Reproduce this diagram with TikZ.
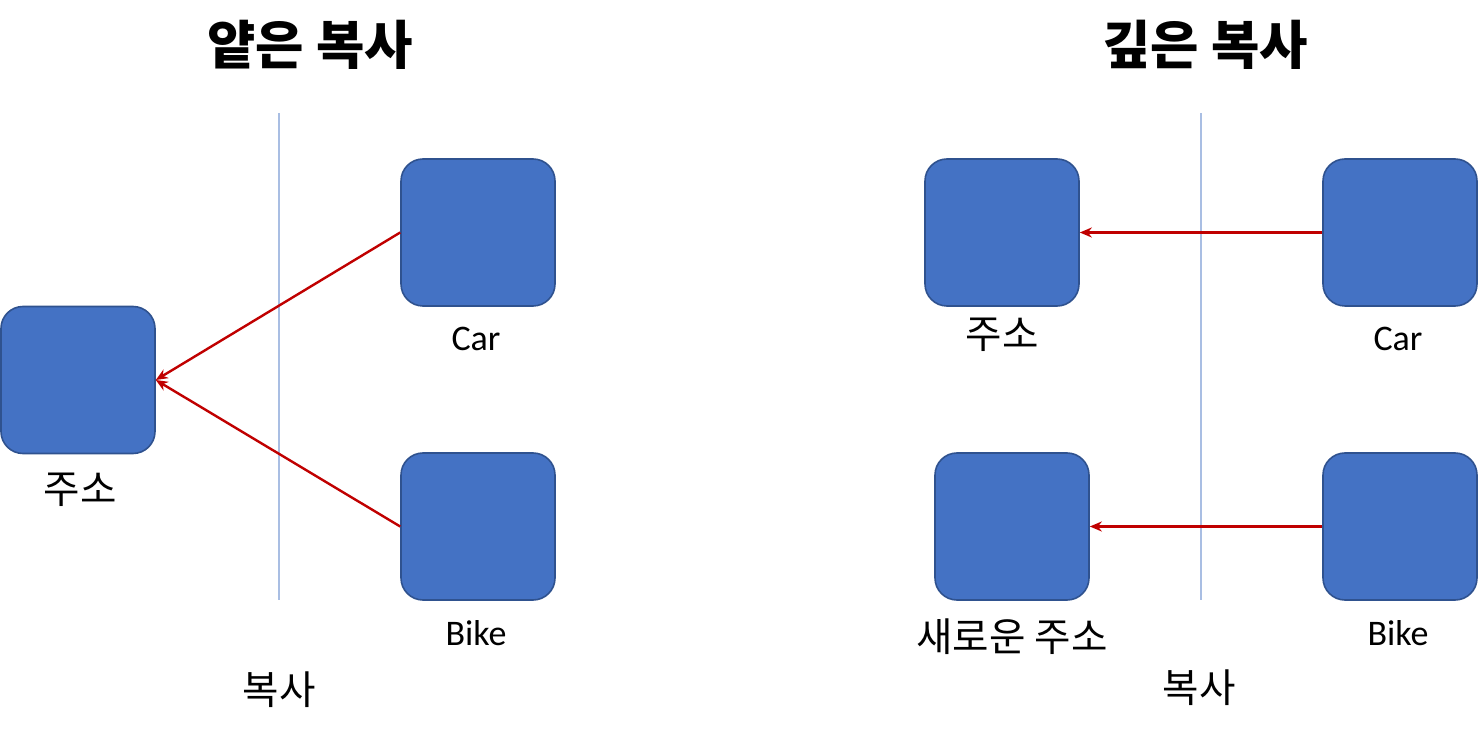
\documentclass[tikz,border=0pt]{standalone}
\usepackage{fontspec}
\setmainfont{Carlito}
\newfontfamily\kr{Noto Sans CJK KR}
\definecolor{boxfill}{HTML}{4472C4}
\definecolor{boxdraw}{HTML}{2F528F}
\definecolor{arrowred}{HTML}{C00000}
\definecolor{divline}{HTML}{A9BEE3}
\usetikzlibrary{arrows.meta}
\begin{document}
\begin{tikzpicture}[x=0.5pt,y=-0.5pt,
  blk/.style={draw=boxdraw,line width=0.8pt,fill=boxfill,rounded corners=11pt,minimum width=77pt,minimum height=73.5pt,inner sep=0pt},
  lbl/.style={font=\fontsize{18}{20}\selectfont,inner sep=0pt},
  krlbl/.style={font=\kr\fontsize{19.8}{22}\selectfont,inner sep=0pt},
  ttl/.style={font=\kr\bfseries\fontsize{26.3}{29}\selectfont,inner sep=0pt},
  ref/.style={draw=arrowred,line width=1.2pt,-{Stealth[length=6pt,width=5pt]}},
  div/.style={draw=divline,line width=0.9pt}]
\useasboundingbox (0,0) rectangle (1478,732);
% titles
\node[ttl] (t1) at (310,45) {얕은 복사};
\node[ttl] (t2) at (1205,45) {깊은 복사};
% dividers
\coordinate (d1a) at (279,113); \coordinate (d1b) at (279,600);
\coordinate (d2a) at (1201,113); \coordinate (d2b) at (1201,600);
\draw[div] (d1a) -- (d1b);
\draw[div] (d2a) -- (d2b);
% left boxes
\node[blk] (addr) at (78,380) {};
\node[blk] (car) at (478,232.5) {};
\node[blk] (bike) at (478,526.5) {};
\node[krlbl] (laddr) at (80,490) {주소};
\node[lbl] (lcar) at (476,339) {Car};
\node[lbl] (lbike) at (476,633) {Bike};
\node[krlbl] (lcopy1) at (279,690) {복사};
\draw[ref] (car.west) -- (addr.east);
\draw[ref] (bike.west) -- (addr.east);
% right boxes
\node[blk] (addr2) at (1002,232.5) {};
\node[blk] (car2) at (1400,232.5) {};
\node[blk] (naddr) at (1012,526.5) {};
\node[blk] (bike2) at (1400,526.5) {};
\node[krlbl] (laddr2) at (1002,335) {주소};
\node[lbl] (lcar2) at (1398,339) {Car};
\node[krlbl] (lnaddr) at (1012,637) {새로운 주소};
\node[lbl] (lbike2) at (1398,633) {Bike};
\node[krlbl] (lcopy2) at (1199,688) {복사};
\draw[ref] (car2.west) -- (addr2.east);
\draw[ref] (bike2.west) -- (naddr.east);
\end{tikzpicture}
\end{document}
